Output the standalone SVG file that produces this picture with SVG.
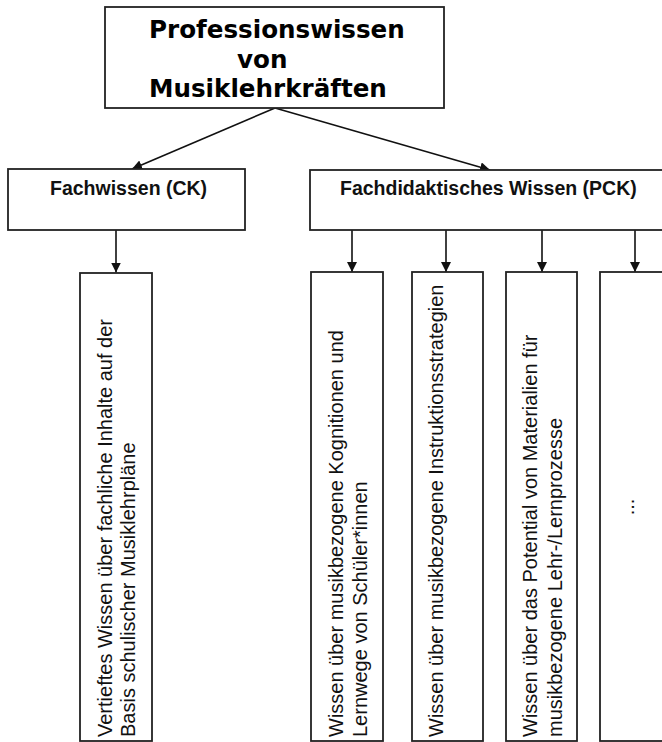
<svg xmlns="http://www.w3.org/2000/svg" width="662" height="742" viewBox="0 0 662 742">
<defs>
<marker id="ah" viewBox="0 0 10 10" refX="10" refY="5" markerWidth="10" markerHeight="10" markerUnits="userSpaceOnUse" orient="auto">
<path d="M0,0 L10,5 L0,10 Z" fill="#111"/>
</marker>
<style>
.box{fill:#fff;stroke:#222;stroke-width:1.8}
.con{stroke:#111;stroke-width:1.6;fill:none;marker-end:url(#ah)}
.title{font-family:"DejaVu Sans",sans-serif;font-weight:bold;font-size:24.6px;fill:#000}
.head{font-family:"Liberation Sans",Arial,sans-serif;font-weight:bold;font-size:19.5px;fill:#111}
.vt{font-family:"Liberation Sans",Arial,sans-serif;font-size:20px;fill:#111}
</style>
</defs>
<rect width="662" height="742" fill="#fff"/>
<g id="connectors">
<line class="con" x1="275" y1="108" x2="132" y2="169"/>
<line class="con" x1="275" y1="108" x2="490" y2="170"/>
<line class="con" x1="116" y1="230" x2="116" y2="272.5"/>
<line class="con" x1="352" y1="230" x2="352" y2="272"/>
<line class="con" x1="446" y1="230" x2="446" y2="272"/>
<line class="con" x1="542" y1="230" x2="542" y2="272"/>
<line class="con" x1="635" y1="230" x2="635" y2="272"/>
</g>
<g id="root">
<rect class="box" x="105" y="7" width="339" height="101"/>
<text class="title" x="149" y="38">Professionswissen</text>
<text class="title" x="237" y="68">von</text>
<text class="title" x="149" y="97">Musiklehrkräften</text>
</g>
<g id="ck">
<rect class="box" x="8" y="169" width="237" height="61"/>
<text class="head" x="50" y="195">Fachwissen (CK)</text>
</g>
<g id="pck">
<rect class="box" x="310" y="170" width="360" height="60"/>
<text class="head" x="340" y="195">Fachdidaktisches Wissen (PCK)</text>
</g>
<g id="ck1">
<rect class="box" x="80" y="273" width="72" height="468"/>
<text class="vt" transform="translate(112,737) rotate(-90)">Vertieftes Wissen über fachliche Inhalte auf der</text>
<text class="vt" transform="translate(135,737) rotate(-90)">Basis schulischer Musiklehrpläne</text>
</g>
<g id="pck1">
<rect class="box" x="311" y="272" width="72" height="469"/>
<text class="vt" transform="translate(343,737) rotate(-90)">Wissen über musikbezogene Kognitionen und</text>
<text class="vt" transform="translate(367,737) rotate(-90)">Lernwege von Schüler*innen</text>
</g>
<g id="pck2">
<rect class="box" x="412" y="272" width="71" height="469"/>
<text class="vt" transform="translate(443,737) rotate(-90)">Wissen über musikbezogene Instruktionsstrategien</text>
</g>
<g id="pck3">
<rect class="box" x="506" y="272" width="71" height="469"/>
<text class="vt" transform="translate(537,737) rotate(-90)">Wissen über das Potential von Materialien für</text>
<text class="vt" transform="translate(562,737) rotate(-90)">musikbezogene Lehr-/Lernprozesse</text>
</g>
<g id="pck4">
<rect class="box" x="600" y="272" width="70" height="469"/>
<text class="vt" text-anchor="middle" transform="translate(634,507) rotate(-90)">...</text>
</g>
</svg>
